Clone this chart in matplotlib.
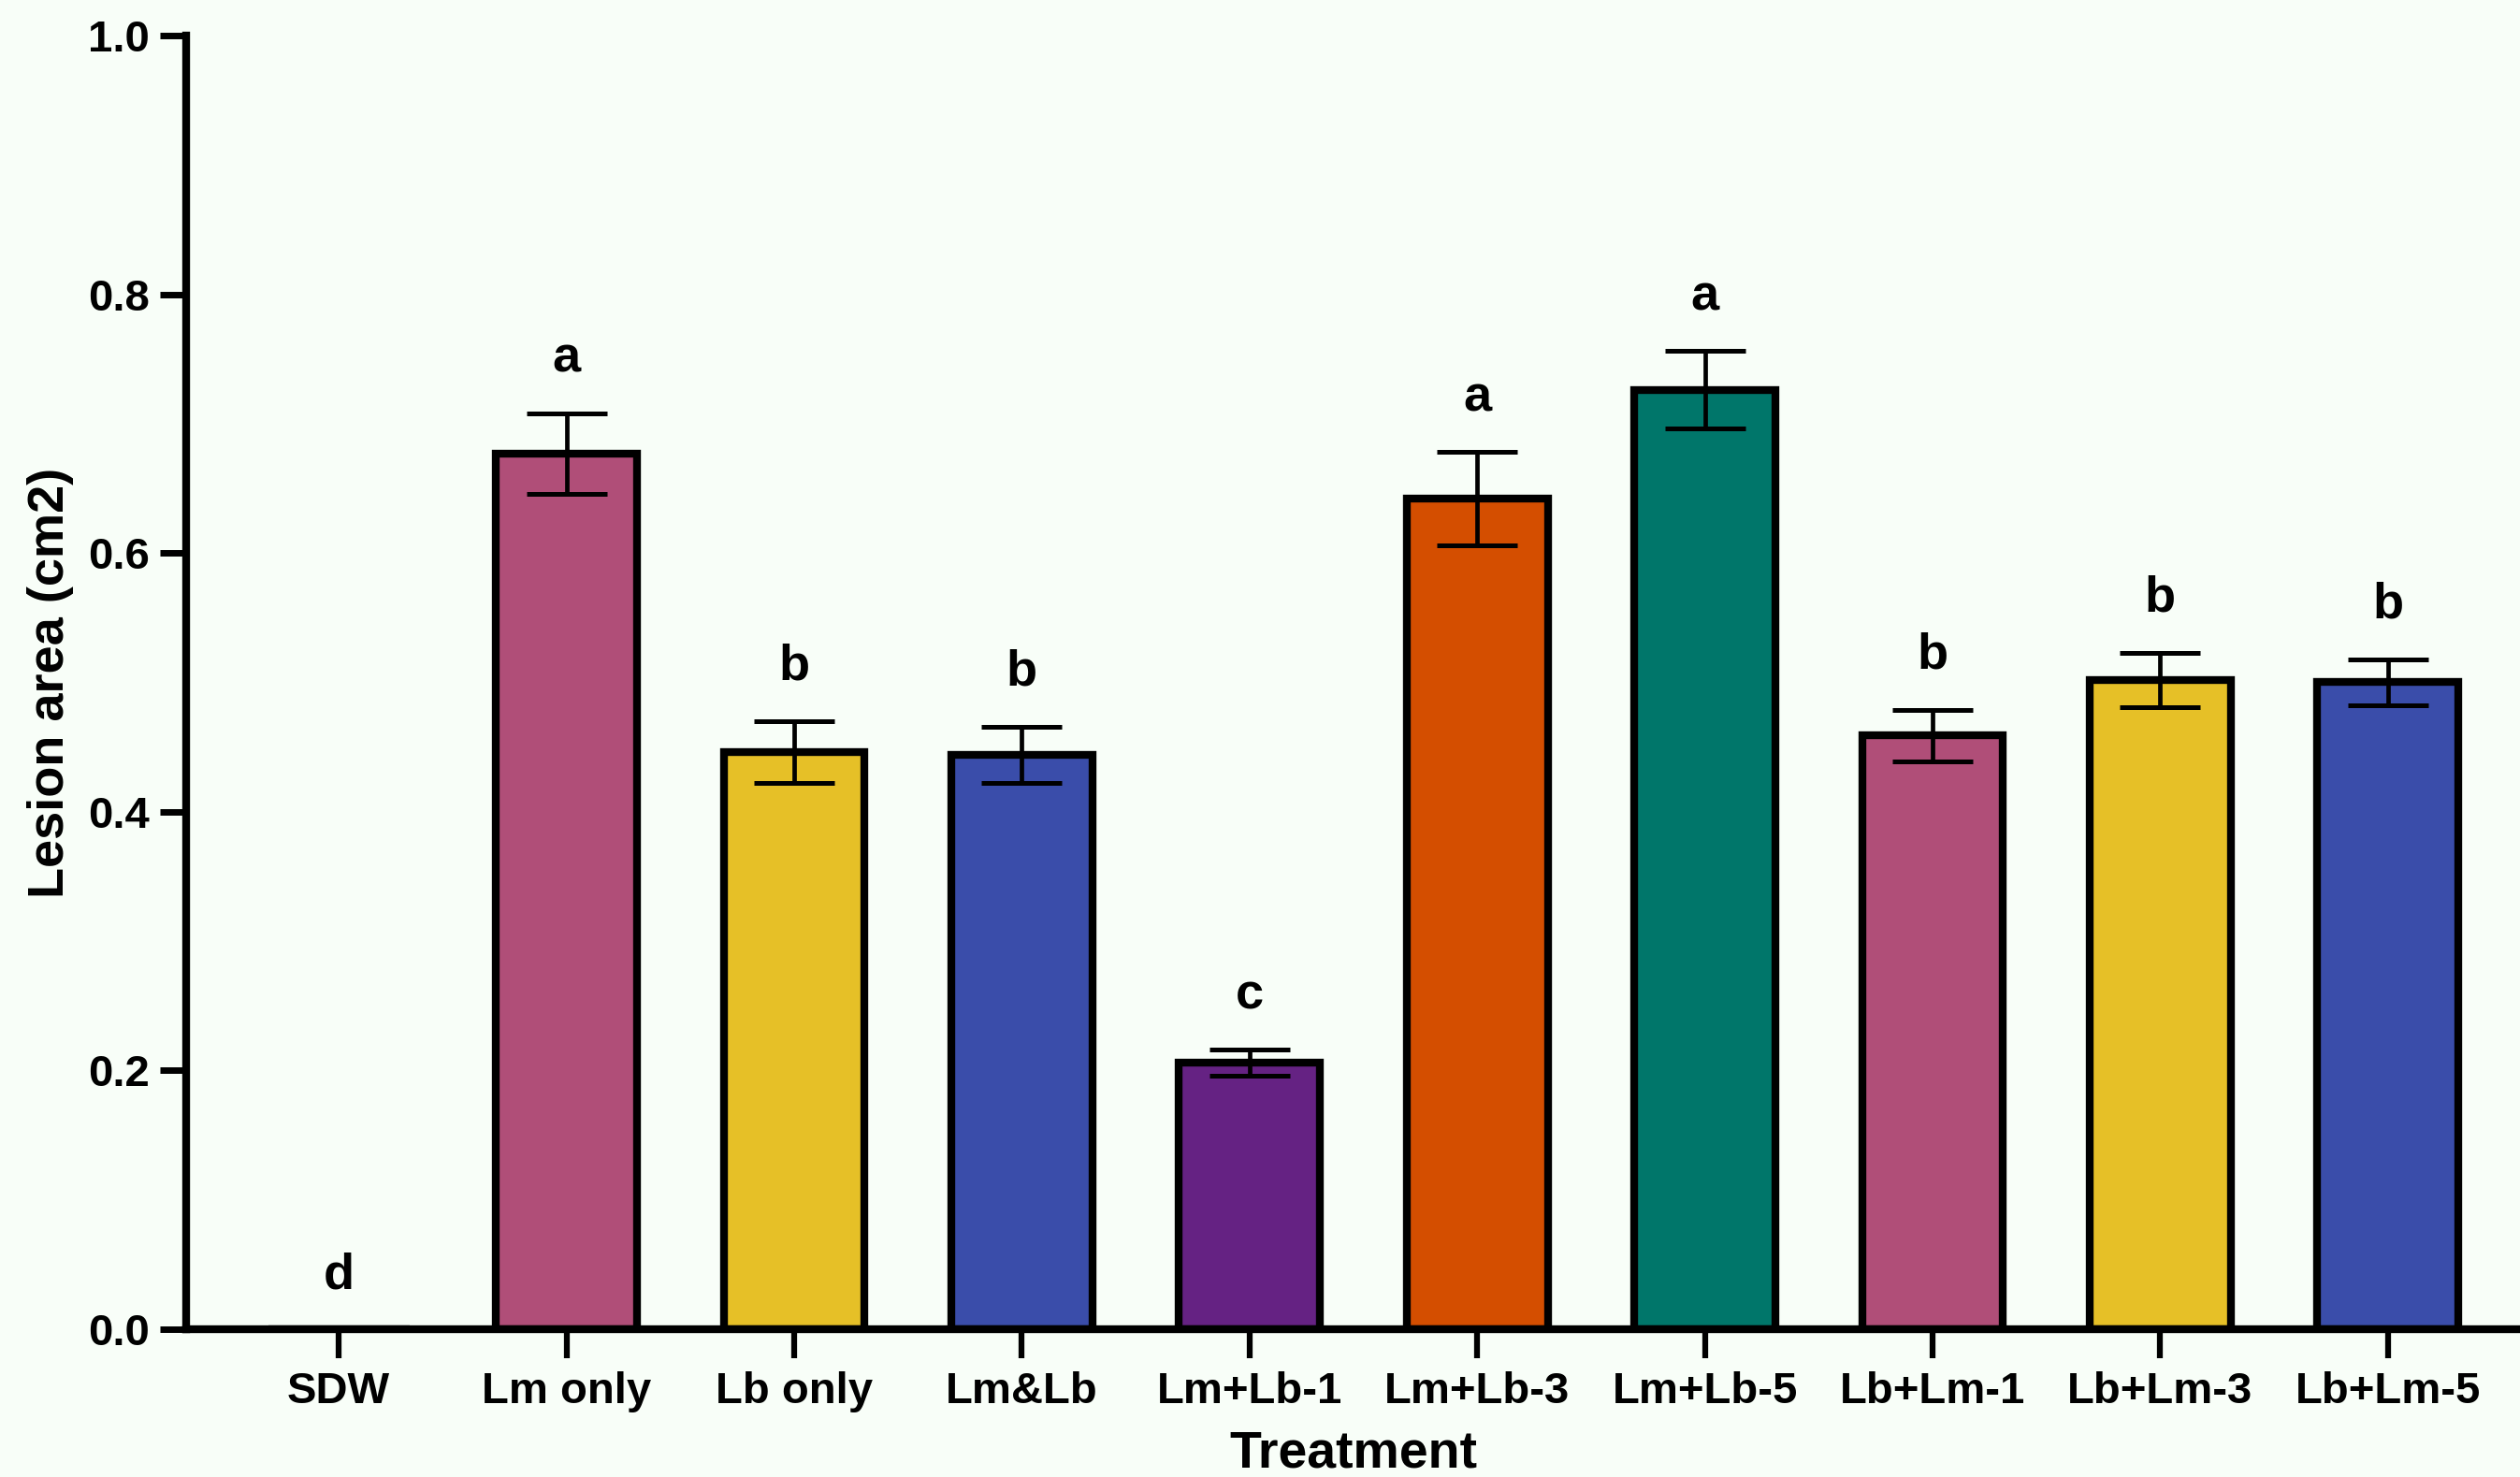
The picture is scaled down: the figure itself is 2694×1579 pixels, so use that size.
import numpy as np
import matplotlib.pyplot as plt

plt.rcParams['font.family'] = ['Liberation Sans', 'DejaVu Sans']
plt.rcParams['font.weight'] = 'bold'

# lesion area per treatment (mean, SE) and significance groups
treatments = ['SDW', 'Lm only', 'Lb only', 'Lm&Lb', 'Lm+Lb-1', 'Lm+Lb-3',
              'Lm+Lb-5', 'Lb+Lm-1', 'Lb+Lm-3', 'Lb+Lm-5']
lesion_mean = [0.0, 0.677, 0.446, 0.444, 0.206, 0.642, 0.726, 0.459, 0.502, 0.500]
lesion_se = [0.0, 0.031, 0.024, 0.022, 0.010, 0.036, 0.030, 0.020, 0.021, 0.018]
groups = ['d', 'a', 'b', 'b', 'c', 'a', 'a', 'b', 'b', 'b']
bar_colors = ['#F8FEF8', '#B04E78', '#E6C027', '#3A4DAA', '#652283', '#D44E00',
              '#00766A', '#B04E78', '#E6C027', '#3A4DAA']

bg = '#F8FEF8'
fig = plt.figure(figsize=(26.94, 15.79), dpi=100, facecolor=bg)
ax = fig.add_axes([0.0739, 0.100, 0.9261, 0.876], facecolor=bg)

x = np.arange(len(treatments))
ax.bar(x, lesion_mean, width=0.62, color=bar_colors, edgecolor='black',
       linewidth=6, zorder=2)
ax.errorbar(x[1:], lesion_mean[1:], yerr=lesion_se[1:], fmt='none',
            ecolor='black', elinewidth=3.4, capsize=31, capthick=3.6, zorder=3)

for xi, m, s, g in zip(x, lesion_mean, lesion_se, groups):
    ax.text(xi, m + s + 0.042, g, ha='center', va='center',
            fontsize=39, fontweight='bold')

ax.set_xlim(-0.67, 9.58)
ax.set_ylim(0, 1.0)
ax.set_yticks([0.0, 0.2, 0.4, 0.6, 0.8, 1.0])
ax.set_yticklabels(['0.0', '0.2', '0.4', '0.6', '0.8', '1.0'])
ax.set_xticks(x)
ax.set_xticklabels(treatments)

for side in ['top', 'right']:
    ax.spines[side].set_visible(False)
for side in ['left', 'bottom']:
    ax.spines[side].set_linewidth(6)
    ax.spines[side].set_capstyle('projecting')

ax.tick_params(axis='y', length=20, width=5, pad=8, labelsize=34)
ax.tick_params(axis='x', length=22, width=4.5, pad=10, labelsize=34)
for lab in ax.get_xticklabels() + ax.get_yticklabels():
    lab.set_fontweight('bold')

ax.set_ylabel('Lesion area (cm2)', fontsize=39, fontweight='bold', labelpad=11)
ax.set_xlabel('Treatment', fontsize=40, fontweight='bold', labelpad=14)

fig.savefig('out.png', dpi=100, facecolor=bg)
